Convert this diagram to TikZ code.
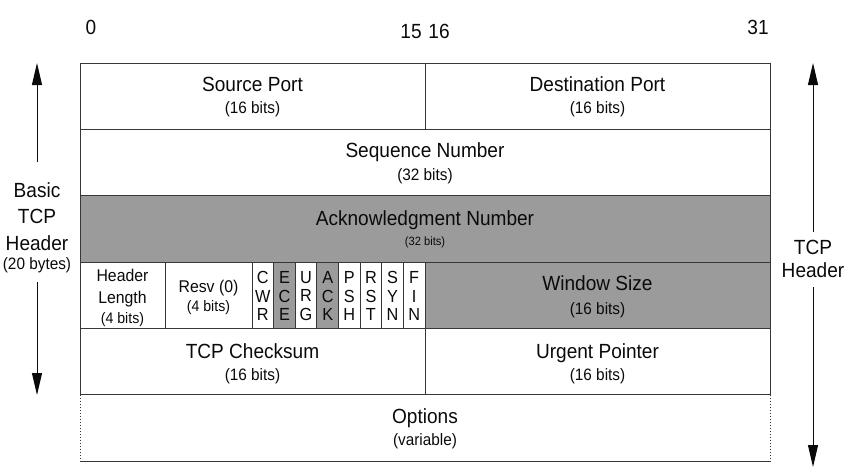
\documentclass[tikz,border=0pt]{standalone}
\usepackage{fontspec}
\setmainfont{Liberation Sans}[FakeStretch=0.93]
\usetikzlibrary{arrows.meta}
\definecolor{shade}{RGB}{155,155,155}
\definecolor{linec}{RGB}{55,55,55}
\definecolor{txt}{RGB}{10,10,10}
\begin{document}
\begin{tikzpicture}[x=1pt,y=-1pt,
  cell/.style={draw=linec, line width=1pt, inner sep=0pt, outer sep=0pt, anchor=north west, minimum height=66.33pt},
  shaded/.style={cell, fill=shade},
  flagcell/.style={cell, minimum width=21.625pt, minimum height=66.33pt},
  main/.style={font=\fontsize{20.5}{24}\selectfont, text=txt, inner sep=0pt, text height=14.7pt, text depth=0pt},
  sub/.style={font=\fontsize{16.5}{20}\selectfont, text=txt, inner sep=0pt, text height=11.8pt, text depth=0pt},
  small/.style={font=\fontsize{17}{20}\selectfont, text=txt, inner sep=0pt, text height=12.2pt, text depth=0pt},
  smallsub/.style={font=\fontsize{15.2}{18}\selectfont, text=txt, inner sep=0pt, text height=10.9pt, text depth=0pt},
  tinysub/.style={font=\fontsize{12}{14}\selectfont, text=txt, inner sep=0pt, text height=8.6pt, text depth=0pt},
  flagtxt/.style={font=\fontsize{17.5}{18.7}\selectfont, text=txt, inner sep=0pt, align=center},
  arr/.style={draw=txt, line width=1pt, -{Triangle[length=22pt,width=10pt]}}
]
\useasboundingbox (0,0) rectangle (850,471);

% bit numbers
\node[main] (b0) at (91,27.5) {0};
\node[main] (b15) at (411,31) {15};
\node[main] (b16) at (439,31) {16};
\node[main] (b31) at (758,27.5) {31};

% row 1
\node[cell, minimum width=345pt] (src) at (80,63) {};
\node[cell, minimum width=345pt] (dst) at (425,63) {};
% row 2
\node[cell, minimum width=690pt] (seq) at (80,129.33) {};
% row 3
\node[shaded, minimum width=690pt] (ack) at (80,195.67) {};
% row 4
\node[cell, minimum width=85pt] (hlen) at (80,262) {};
\node[cell, minimum width=87pt] (resv) at (165,262) {};
\node[flagcell] (fCWR) at (252,262) {};
\node[flagcell, fill=shade] (fECE) at (273.625,262) {};
\node[flagcell] (fURG) at (295.25,262) {};
\node[flagcell, fill=shade] (fACK) at (316.875,262) {};
\node[flagcell] (fPSH) at (338.5,262) {};
\node[flagcell] (fRST) at (360.125,262) {};
\node[flagcell] (fSYN) at (381.75,262) {};
\node[flagcell] (fFIN) at (403.375,262) {};
\node[shaded, minimum width=345pt] (win) at (425,262) {};
% row 5
\node[cell, minimum width=345pt] (chk) at (80,328.33) {};
\node[cell, minimum width=345pt] (urg) at (425,328.33) {};
% row 6 (options)
\node[inner sep=0pt, outer sep=0pt, anchor=north west, minimum width=690pt, minimum height=66.33pt] (opt) at (80,394.67) {};
\draw[draw=linec, line width=0.8pt, dash pattern=on 1.6pt off 1.4pt] (opt.north west) -- (opt.south west);
\draw[draw=linec, line width=0.8pt, dash pattern=on 1.6pt off 1.4pt] (opt.north east) -- (opt.south east);
\draw[draw=linec, line width=1pt] (opt.south west) -- (opt.south east);

% texts
\node[main] (tsrc) at (252.5,84) {Source Port};
\node[sub] (tsrcb) at (252.5,108) {(16 bits)};
\node[main] (tdst) at (597.5,84) {Destination Port};
\node[sub] (tdstb) at (597.5,108) {(16 bits)};
\node[main] (tseq) at (425,150) {Sequence Number};
\node[sub] (tseqb) at (425,175) {(32 bits)};
\node[main] (tack) at (425,218) {Acknowledgment Number};
\node[tinysub] (tackb) at (425,241) {(32 bits)};
\node[small] (thl1) at (122.5,275.5) {Header};
\node[small] (thl2) at (122.5,297) {Length};
\node[smallsub] (thl3) at (122.5,318) {(4 bits)};
\node[small] (trs1) at (208.5,286) {Resv (0)};
\node[smallsub] (trs2) at (208.5,306) {(4 bits)};
\node[flagtxt] (tCWR) at (262.81,296) {C\\W\\R};
\node[flagtxt] (tECE) at (284.44,296) {E\\C\\E};
\node[flagtxt] (tURG) at (306.06,296) {U\\R\\G};
\node[flagtxt] (tACK) at (327.69,296) {A\\C\\K};
\node[flagtxt] (tPSH) at (349.31,296) {P\\S\\H};
\node[flagtxt] (tRST) at (370.94,296) {R\\S\\T};
\node[flagtxt] (tSYN) at (392.56,296) {S\\Y\\N};
\node[flagtxt] (tFIN) at (414.19,296) {F\\I\\N};
\node[main] (twin) at (597.5,283) {Window Size};
\node[sub] (twinb) at (597.5,309) {(16 bits)};
\node[main] (tchk) at (252.5,351) {TCP Checksum};
\node[sub] (tchkb) at (252.5,375) {(16 bits)};
\node[main] (turg) at (597.5,351) {Urgent Pointer};
\node[sub] (turgb) at (597.5,375) {(16 bits)};
\node[main] (topt) at (425,416) {Options};
\node[sub] (toptb) at (425,440) {(variable)};

% left label and arrow
\node[main] (lb1) at (37,190) {Basic};
\node[main] (lb2) at (37,216) {TCP};
\node[main] (lb3) at (37,243) {Header};
\node[sub] (lb4) at (37,264) {(20 bytes)};
\coordinate (la1) at (37,63);
\coordinate (la2) at (37,162);
\coordinate (la3) at (37,282);
\coordinate (la4) at (37,395);
\draw[arr] (la2) -- (la1);
\draw[arr] (la3) -- (la4);

% right label and arrow
\node[main] (rb1) at (813,247) {TCP};
\node[main] (rb2) at (813,270) {Header};
\coordinate (ra1) at (813,63);
\coordinate (ra2) at (813,232);
\coordinate (ra3) at (813,287);
\coordinate (ra4) at (813,467);
\draw[arr] (ra2) -- (ra1);
\draw[arr] (ra3) -- (ra4);
\end{tikzpicture}
\end{document}
